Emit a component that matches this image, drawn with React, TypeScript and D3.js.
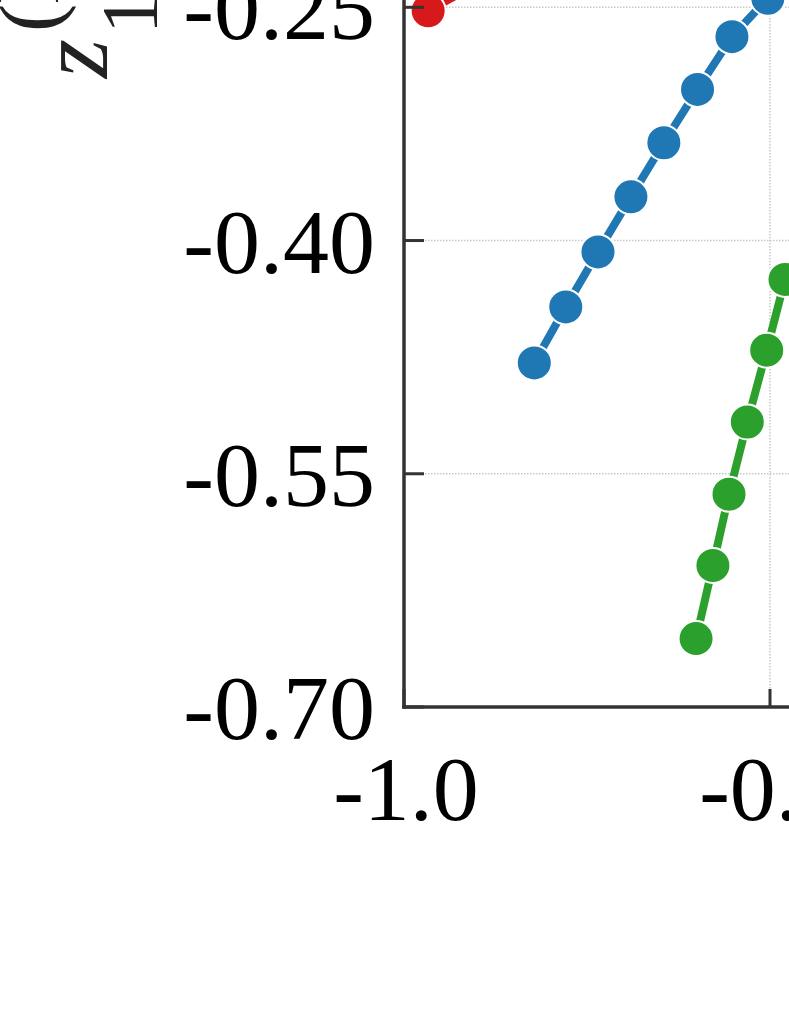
import React from 'react'
import * as d3 from 'd3'

// values (the picture is a crop of a bigger panel)
const redX = [-0.967, -0.89]
const redY = [-0.2522, -0.2325]

const blueX = [-0.822, -0.779, -0.735, -0.690, -0.645, -0.599, -0.552, -0.503]
const blueY = [-0.4787, -0.4427, -0.4073, -0.3719, -0.3371, -0.3028, -0.2689, -0.2442]

const greenX = [-0.601, -0.578, -0.556, -0.531, -0.5045, -0.4795]
const greenY = [-0.656, -0.609, -0.5632, -0.5167, -0.4705, -0.425]

const xTicks = [-1.0, -0.5]
const xTickLabels = ['-1.0', '-0.5']
const yTicks = [-0.70, -0.55, -0.40, -0.25]
const yTickLabels = ['-0.70', '-0.55', '-0.40', '-0.25']

const series = [
  { xs: redX, ys: redY, color: '#d7191c' },
  { xs: blueX, ys: blueY, color: '#1f77b4' },
  { xs: greenX, ys: greenY, color: '#2ca02c' },
]

const W = 789
const H = 1021
const font = '"Liberation Serif", "Times New Roman", serif'

export default function App() {
  const x = d3.scaleLinear().domain([-1.0, -0.5]).range([404, 770])
  const y = d3.scaleLinear().domain([-0.70, -0.25]).range([707, 7.3])
  const left = x(-1.0)
  const bottom = y(-0.70)

  const line = d3.line<[number, number]>()
    .x(d => x(d[0]))
    .y(d => y(d[1]))

  return (
    <svg width={W} height={H} style={{ position: 'absolute', left: 0, top: 0, background: '#fff' }}>
      {/* grid */}
      {yTicks.map(t => (
        <line key={'gy' + t} x1={left} x2={W} y1={y(t)} y2={y(t)}
          stroke="#c8c8c8" strokeWidth={1.5} strokeDasharray="1.5,1.5" />
      ))}
      {xTicks.map(t => (
        <line key={'gx' + t} x1={x(t)} x2={x(t)} y1={0} y2={bottom}
          stroke="#c8c8c8" strokeWidth={1.5} strokeDasharray="1.5,1.5" />
      ))}

      {/* series */}
      {series.map((s, i) => {
        const pts: [number, number][] = s.xs.map((v, j) => [v, s.ys[j]])
        return (
          <g key={i}>
            <path d={line(pts) || ''} fill="none" stroke={s.color} strokeWidth={8} />
            {pts.map((p, j) => (
              <circle key={j} cx={x(p[0])} cy={y(p[1])} r={17.5}
                fill={s.color} stroke="#fff" strokeWidth={2} />
            ))}
          </g>
        )
      })}

      {/* spines */}
      <line x1={left} x2={left} y1={0} y2={bottom + 1.75} stroke="#333" strokeWidth={3.5} />
      <line x1={left - 1.75} x2={W} y1={bottom} y2={bottom} stroke="#333" strokeWidth={3.5} />

      {/* y ticks */}
      {yTicks.map((t, i) => (
        <g key={'ty' + t}>
          <line x1={left} x2={left + 20} y1={y(t)} y2={y(t)} stroke="#333" strokeWidth={3} />
          <text x={375} y={y(t) + 32} textAnchor="end" fontFamily={font} fontSize={92} fill="#000">
            {yTickLabels[i]}
          </text>
        </g>
      ))}

      {/* x ticks */}
      {xTicks.map((t, i) => (
        <g key={'tx' + t}>
          <line x1={x(t)} x2={x(t)} y1={bottom} y2={bottom - 18} stroke="#333" strokeWidth={3} />
          <text x={x(t) + 2} y={820} textAnchor="middle" fontFamily={font} fontSize={92} fill="#000">
            {xTickLabels[i]}
          </text>
        </g>
      ))}

      {/* y axis title, z_1^(l), stacked sub/sup */}
      <g transform="translate(107,78) rotate(-90)" fontFamily={font} fill="#222">
        <text x={0} y={0} fontSize={100} fontStyle="italic">z</text>
        <text x={44} y={50} fontSize={80}>1</text>
        <text x={46} y={-49} fontSize={85}>(l)</text>
      </g>
    </svg>
  )
}
